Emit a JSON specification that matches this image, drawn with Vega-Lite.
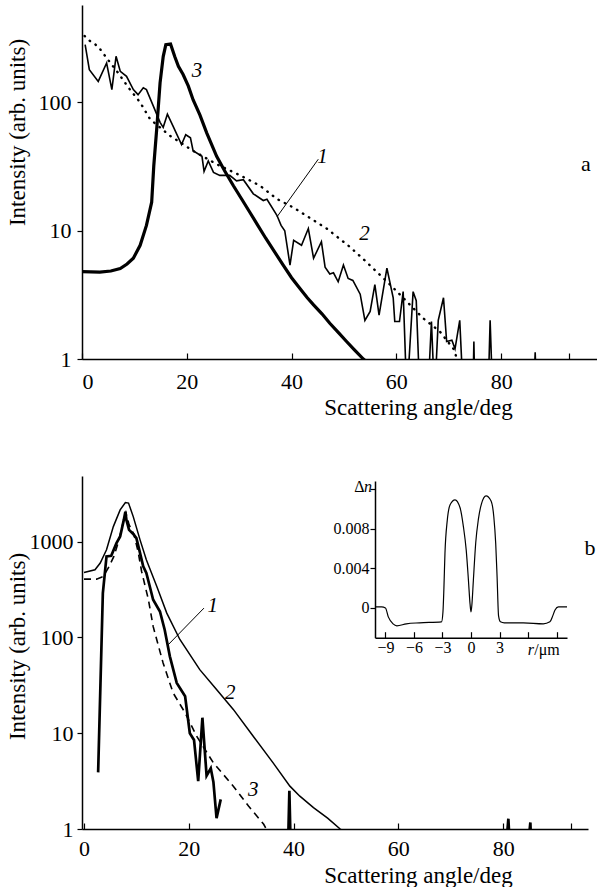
{
  "$schema": "https://vega.github.io/schema/vega-lite/v6.json",
  "background": "white",
  "padding": {"left": 5, "top": 5, "right": 0, "bottom": 0},
  "spacing": 117,
  "bounds": "flush",
  "config": {
    "view": {"stroke": null},
    "axis": {
      "grid": false,
      "domainColor": "black",
      "domainWidth": 1.5,
      "tickColor": "black",
      "tickWidth": 1.2,
      "labelColor": "black",
      "labelFontSize": 22,
      "titleFontSize": 23,
      "titleFontWeight": "normal",
      "titleColor": "black"
    }
  },
  "datasets": {
    "a1": [
      {"angle":0.6,"intensity":282},{"angle":1.4,"intensity":180},{"angle":3.1,"intensity":146},{"angle":4.7,"intensity":203},{"angle":5.7,"intensity":126},{"angle":6.5,"intensity":229},{"angle":7.3,"intensity":175},{"angle":8.5,"intensity":160},{"angle":9.8,"intensity":126},{"angle":10.7,"intensity":115},{"angle":11.7,"intensity":130},{"angle":12.3,"intensity":126},{"angle":13.6,"intensity":94},{"angle":14.9,"intensity":70},{"angle":15.5,"intensity":64},{"angle":16.3,"intensity":81},{"angle":17.4,"intensity":65},{"angle":19.0,"intensity":47},{"angle":19.8,"intensity":56},{"angle":20.7,"intensity":53},{"angle":21.2,"intensity":42},{"angle":22.9,"intensity":38},{"angle":23.3,"intensity":29},{"angle":24.1,"intensity":35},{"angle":25.1,"intensity":28.5},{"angle":26.3,"intensity":27},{"angle":28.2,"intensity":27},{"angle":29.5,"intensity":24.5},{"angle":30.8,"intensity":25},{"angle":32.7,"intensity":19.4},{"angle":34.6,"intensity":17.2},{"angle":35.3,"intensity":17.6},{"angle":37.2,"intensity":13.2},{"angle":38.0,"intensity":11},{"angle":38.7,"intensity":10},{"angle":39.7,"intensity":5.4},{"angle":40.4,"intensity":8.4},{"angle":41.9,"intensity":7.7},{"angle":43.2,"intensity":10.4},{"angle":44.2,"intensity":6.1},{"angle":45.7,"intensity":8.2},{"angle":46.4,"intensity":5.2},{"angle":47.3,"intensity":4.6},{"angle":48.0,"intensity":4.7},{"angle":48.9,"intensity":4.0},{"angle":49.9,"intensity":5.4},{"angle":50.8,"intensity":4.25},{"angle":51.7,"intensity":4.1},{"angle":53.1,"intensity":3.2},{"angle":54.0,"intensity":2.0},{"angle":55.0,"intensity":2.35},{"angle":55.9,"intensity":3.8},{"angle":56.7,"intensity":2.2},{"angle":58.2,"intensity":5.1},{"angle":59.4,"intensity":3.0},{"angle":59.7,"intensity":1.96},{"angle":60.6,"intensity":1.96},{"angle":61.3,"intensity":3.35},{"angle":62.0,"intensity":0.5},{"angle":63.2,"intensity":3.35},{"angle":63.8,"intensity":2.85},{"angle":64.5,"intensity":0.5},{"angle":66.0,"intensity":0.5},{"angle":66.7,"intensity":1.96},{"angle":67.3,"intensity":0.5},{"angle":68.0,"intensity":2.0},{"angle":69.0,"intensity":3.0},{"angle":69.6,"intensity":1.37},{"angle":70.6,"intensity":1.4},{"angle":71.2,"intensity":1.2},{"angle":72.1,"intensity":2.0},{"angle":72.8,"intensity":0.5},{"angle":74.6,"intensity":0.5},{"angle":74.8,"intensity":1.37},{"angle":75.0,"intensity":0.5},{"angle":77.5,"intensity":0.5},{"angle":77.9,"intensity":2.0},{"angle":78.4,"intensity":0.5},{"angle":86.2,"intensity":0.5},{"angle":86.5,"intensity":1.13},{"angle":86.8,"intensity":0.5}
    ],
    "a2": [
      {"angle":0.5,"intensity":330},{"angle":1.0,"intensity":312},{"angle":3.1,"intensity":273},{"angle":4.7,"intensity":222},{"angle":6.9,"intensity":170},{"angle":8.9,"intensity":130},{"angle":11.1,"intensity":100},{"angle":13.0,"intensity":74},{"angle":16.8,"intensity":55},{"angle":21.2,"intensity":42},{"angle":25.7,"intensity":33},{"angle":30.2,"intensity":27},{"angle":34.0,"intensity":22.4},{"angle":37.2,"intensity":17.7},{"angle":40.3,"intensity":15.2},{"angle":43.2,"intensity":12.8},{"angle":46.7,"intensity":10.4},{"angle":51.1,"intensity":7.5},{"angle":54.3,"intensity":5.7},{"angle":58.8,"intensity":3.8},{"angle":61.3,"intensity":3.0},{"angle":65.1,"intensity":2.08},{"angle":68.3,"intensity":1.64},{"angle":70.9,"intensity":1.2},{"angle":71.6,"intensity":1.0}
    ],
    "a3": [
      {"angle":0,"intensity":4.8},{"angle":3.4,"intensity":4.75},{"angle":5.5,"intensity":4.85},{"angle":7.3,"intensity":5.07},{"angle":8.6,"intensity":5.5},{"angle":9.8,"intensity":6.1},{"angle":11.1,"intensity":7.7},{"angle":12.3,"intensity":11},{"angle":13.3,"intensity":16.7},{"angle":13.7,"intensity":32},{"angle":14.3,"intensity":65},{"angle":14.9,"intensity":142},{"angle":15.5,"intensity":228},{"angle":16.0,"intensity":282},{"angle":16.9,"intensity":285},{"angle":17.7,"intensity":228},{"angle":18.4,"intensity":191},{"angle":19.3,"intensity":165},{"angle":20.3,"intensity":134},{"angle":21.2,"intensity":105},{"angle":22.5,"intensity":80},{"angle":23.8,"intensity":58},{"angle":25.7,"intensity":38},{"angle":27.3,"intensity":29},{"angle":28.9,"intensity":22.4},{"angle":30.5,"intensity":17.6},{"angle":32.0,"intensity":14},{"angle":33.5,"intensity":11.1},{"angle":35.1,"intensity":8.7},{"angle":36.7,"intensity":6.9},{"angle":38.4,"intensity":5.4},{"angle":40.0,"intensity":4.3},{"angle":41.6,"intensity":3.55},{"angle":43.0,"intensity":3.0},{"angle":44.2,"intensity":2.64},{"angle":45.8,"intensity":2.25},{"angle":47.3,"intensity":1.9},{"angle":49.0,"intensity":1.6},{"angle":50.5,"intensity":1.37},{"angle":52.0,"intensity":1.18},{"angle":53.7,"intensity":1.0},{"angle":55.0,"intensity":0.9}
    ],
    "aLeader": [{"angle":37.2,"intensity":12.8,"angle2":45.1,"intensity2":36.1}],
    "aLabels": [{"angle":21.96,"intensity":175,"t":"3"},{"angle":45.9,"intensity":37.8,"t":"1"},{"angle":53.9,"intensity":9.5,"t":"2"}],
    "aLetter": [{"angle":96.2,"intensity":33,"t":"a"}],
    "b1": [
      {"seg":1,"angle":2.7,"intensity":3.9},{"seg":1,"angle":3.6,"intensity":290},{"seg":1,"angle":4.3,"intensity":700},{"seg":1,"angle":5.2,"intensity":710},{"seg":1,"angle":6.2,"intensity":962},{"seg":1,"angle":6.9,"intensity":1128},{"seg":1,"angle":7.6,"intensity":1682},{"seg":1,"angle":7.9,"intensity":2050},{"seg":1,"angle":8.1,"intensity":1680},{"seg":1,"angle":8.6,"intensity":1324},{"seg":1,"angle":9.4,"intensity":1200},{"seg":1,"angle":10.0,"intensity":1084},{"seg":1,"angle":10.6,"intensity":800},{"seg":1,"angle":11.3,"intensity":550},{"seg":1,"angle":11.9,"intensity":470},{"seg":1,"angle":12.5,"intensity":350},{"seg":1,"angle":13.2,"intensity":247},{"seg":1,"angle":14.5,"intensity":186},{"seg":1,"angle":15.4,"intensity":120},{"seg":1,"angle":16.4,"intensity":63},{"seg":1,"angle":17.7,"intensity":33.5},{"seg":1,"angle":19.3,"intensity":24.3},{"seg":1,"angle":20.2,"intensity":10},{"seg":1,"angle":21.0,"intensity":8.5},{"seg":1,"angle":21.8,"intensity":3.16},{"seg":1,"angle":22.6,"intensity":14.5},{"seg":1,"angle":23.4,"intensity":3.6},{"seg":1,"angle":24.2,"intensity":4.3},{"seg":1,"angle":24.7,"intensity":3.1},{"seg":1,"angle":25.3,"intensity":1.3},{"seg":1,"angle":26.1,"intensity":2.04},
      {"seg":2,"angle":38.9,"intensity":0.5},{"seg":2,"angle":39.2,"intensity":2.5},{"seg":2,"angle":39.5,"intensity":0.5},
      {"seg":3,"angle":80.7,"intensity":0.8},{"seg":3,"angle":81.0,"intensity":1.28},{"seg":3,"angle":81.2,"intensity":0.8},
      {"seg":4,"angle":84.9,"intensity":0.8},{"seg":4,"angle":85.2,"intensity":1.17},{"seg":4,"angle":85.3,"intensity":0.8}
    ],
    "b2": [
      {"angle":0,"intensity":475},{"angle":2.1,"intensity":507},{"angle":3.1,"intensity":596},{"angle":4.3,"intensity":820},{"angle":5.6,"intensity":1432},{"angle":6.9,"intensity":2140},{"angle":7.9,"intensity":2547},{"angle":8.5,"intensity":2520},{"angle":9.4,"intensity":1820},{"angle":10.7,"intensity":1041},{"angle":11.9,"intensity":646},{"angle":13.9,"intensity":340},{"angle":15.8,"intensity":179},{"angle":18.3,"intensity":95},{"angle":22.1,"intensity":46},{"angle":25.3,"intensity":28.5},{"angle":28.5,"intensity":17.7},{"angle":32.3,"intensity":9.3},{"angle":36.1,"intensity":4.9},{"angle":39.3,"intensity":2.8},{"angle":41.2,"intensity":2.2},{"angle":43.8,"intensity":1.67},{"angle":46.5,"intensity":1.3},{"angle":48.9,"intensity":1.0},{"angle":50,"intensity":0.9}
    ],
    "b3": [
      {"angle":0,"intensity":405},{"angle":2.4,"intensity":405},{"angle":3.7,"intensity":431},{"angle":4.8,"intensity":550},{"angle":5.7,"intensity":700},{"angle":6.6,"intensity":1000},{"angle":7.6,"intensity":1700},{"angle":8.0,"intensity":2000},{"angle":8.6,"intensity":1500},{"angle":9.5,"intensity":1200},{"angle":10.3,"intensity":800},{"angle":11.0,"intensity":487},{"angle":12.3,"intensity":247},{"angle":13.2,"intensity":130},{"angle":15.1,"intensity":54},{"angle":17.0,"intensity":26.4},{"angle":19.3,"intensity":16.3},{"angle":21.5,"intensity":9.3},{"angle":24.7,"intensity":4.9},{"angle":28.5,"intensity":2.8},{"angle":31.4,"intensity":1.74},{"angle":34.3,"intensity":1.12},{"angle":34.8,"intensity":1.0}
    ],
    "bLeader": [{"angle":16.1,"intensity":84,"angle2":22.9,"intensity2":202}],
    "bLabels": [{"angle":24.6,"intensity":210,"t":"1"},{"angle":27.9,"intensity":26.2,"t":"2"},{"angle":32.3,"intensity":2.55,"t":"3"}],
    "bLetter": [{"angle":96.6,"intensity":860,"t":"b"}],
    "inset": [
      {"r":-10.1,"dn":0.0001},{"r":-9.4,"dn":0.0001},{"r":-9.0,"dn":0.0},{"r":-8.7,"dn":-0.0009},{"r":-8.2,"dn":-0.0016},{"r":-7.8,"dn":-0.0018},{"r":-6.8,"dn":-0.0016},{"r":-5.4,"dn":-0.0015},{"r":-3.1,"dn":-0.0014},{"r":-2.95,"dn":-0.0004},{"r":-2.85,"dn":0.002},{"r":-2.74,"dn":0.0055},{"r":-2.5,"dn":0.0088},{"r":-2.2,"dn":0.0104},{"r":-1.68,"dn":0.0109},{"r":-1.15,"dn":0.0101},{"r":-0.8,"dn":0.0082},{"r":-0.5,"dn":0.0058},{"r":-0.27,"dn":0.0028},{"r":-0.1,"dn":0.0004},{"r":0,"dn":-0.0004},{"r":0.1,"dn":0.0004},{"r":0.25,"dn":0.0028},{"r":0.5,"dn":0.0066},{"r":0.77,"dn":0.0089},{"r":1.1,"dn":0.0105},{"r":1.58,"dn":0.0113},{"r":2.1,"dn":0.0108},{"r":2.4,"dn":0.0092},{"r":2.6,"dn":0.0065},{"r":2.75,"dn":0.003},{"r":2.9,"dn":-0.0008},{"r":3.1,"dn":-0.0014},{"r":3.5,"dn":-0.0015},{"r":5.5,"dn":-0.0015},{"r":7.6,"dn":-0.0016},{"r":8.3,"dn":-0.0014},{"r":8.6,"dn":-0.0008},{"r":8.84,"dn":-0.0002},{"r":9.2,"dn":0.0001},{"r":10.1,"dn":0.0001}
    ],
    "insetUpright": [{"r":-11.74,"dn":0.01215,"t":"Δ"},{"r":8.0,"dn":-0.00428,"t":"/μm"}],
    "insetItalic": [{"r":-10.84,"dn":0.01215,"t":"n"},{"r":6.3,"dn":-0.00428,"t":"r"}]
  },
  "vconcat": [
    {
      "width": 515,
      "height": 354,
      "layer": [
        {
          "data": {"name": "a3"},
          "mark": {"type": "line", "color": "black", "strokeWidth": 3.2, "clip": true},
          "encoding": {
            "x": {"field": "angle", "type": "quantitative", "scale": {"domain": [0, 98.3], "nice": false},
              "axis": {"values": [0, 20, 40, 60, 80, 93], "labelExpr": "datum.value > 90 ? '' : datum.label", "tickSize": -6, "labelPadding": 18,
                "labelFont": "Liberation Serif", "titleFont": "Liberation Serif",
                "title": "Scattering angle/deg", "titleX": 336, "titleY": 55, "titleAlign": "center", "titleBaseline": "alphabetic", "titleAnchor": null}},
            "y": {"field": "intensity", "type": "quantitative", "scale": {"type": "log", "domain": [1, 575], "nice": false},
              "axis": {"values": [1, 10, 100], "format": "d", "tickSize": 5, "labelPadding": 6, "labelFont": "Liberation Serif", "titleFont": "Liberation Serif",
                "title": "Intensity (arb. units)",
                "titleX": -65, "titleY": 127, "titleAlign": "center", "titleBaseline": "middle", "titleAngle": -90, "titleAnchor": null}}
          }
        },
        {
          "data": {"name": "a1"},
          "mark": {"type": "line", "color": "black", "strokeWidth": 1.6, "clip": true},
          "encoding": {
            "x": {"field": "angle", "type": "quantitative"},
            "y": {"field": "intensity", "type": "quantitative"}
          }
        },
        {
          "data": {"name": "a2"},
          "mark": {"type": "line", "color": "black", "strokeWidth": 2.4, "strokeDash": [0.5, 6.5], "strokeCap": "round", "clip": true},
          "encoding": {
            "x": {"field": "angle", "type": "quantitative"},
            "y": {"field": "intensity", "type": "quantitative"}
          }
        },
        {
          "data": {"name": "aLeader"},
          "mark": {"type": "rule", "color": "black", "strokeWidth": 1},
          "encoding": {
            "x": {"field": "angle", "type": "quantitative"},
            "y": {"field": "intensity", "type": "quantitative"},
            "x2": {"field": "angle2"},
            "y2": {"field": "intensity2"}
          }
        },
        {
          "data": {"name": "aLabels"},
          "mark": {"type": "text", "font": "Liberation Serif", "fontStyle": "italic", "fontSize": 21, "color": "black", "align": "center", "baseline": "middle"},
          "encoding": {
            "x": {"field": "angle", "type": "quantitative"},
            "y": {"field": "intensity", "type": "quantitative"},
            "text": {"field": "t"}
          }
        },
        {
          "data": {"name": "aLetter"},
          "mark": {"type": "text", "font": "Liberation Serif", "fontSize": 22, "color": "black", "align": "center", "baseline": "middle"},
          "encoding": {
            "x": {"field": "angle", "type": "quantitative"},
            "y": {"field": "intensity", "type": "quantitative"},
            "text": {"field": "t"}
          }
        }
      ]
    },
    {
      "width": 506,
      "height": 353,
      "layer": [
        {
          "layer": [
            {
              "data": {"name": "b2"},
              "mark": {"type": "line", "color": "black", "strokeWidth": 1.5, "clip": true},
              "encoding": {
                "x": {"field": "angle", "type": "quantitative", "scale": {"domain": [-0.38, 96.2], "nice": false, "zero": false},
                  "axis": {"values": [0, 20, 40, 60, 80, 93], "labelExpr": "datum.value > 90 ? '' : datum.label", "tickSize": -6, "labelPadding": 15,
                    "labelFont": "Liberation Serif", "titleFont": "Liberation Serif",
                    "title": "Scattering angle/deg", "titleX": 336, "titleY": 53, "titleAlign": "center", "titleBaseline": "alphabetic", "titleAnchor": null}},
                "y": {"field": "intensity", "type": "quantitative", "scale": {"type": "log", "domain": [1, 4830], "nice": false},
                  "axis": {"values": [1, 10, 100, 1000], "format": "d", "tickSize": 5, "labelPadding": 4, "labelFont": "Liberation Serif", "titleFont": "Liberation Serif",
                    "title": "Intensity (arb. units)",
                    "titleX": -65, "titleY": 170, "titleAlign": "center", "titleBaseline": "middle", "titleAngle": -90, "titleAnchor": null}}
              }
            },
            {
              "data": {"name": "b3"},
              "mark": {"type": "line", "color": "black", "strokeWidth": 1.6, "strokeDash": [7, 5], "clip": true},
              "encoding": {
                "x": {"field": "angle", "type": "quantitative"},
                "y": {"field": "intensity", "type": "quantitative"}
              }
            },
            {
              "data": {"name": "b1"},
              "mark": {"type": "line", "color": "black", "strokeWidth": 2.7, "clip": true},
              "encoding": {
                "x": {"field": "angle", "type": "quantitative"},
                "y": {"field": "intensity", "type": "quantitative"},
                "detail": {"field": "seg", "type": "nominal"}
              }
            },
            {
              "data": {"name": "bLeader"},
              "mark": {"type": "rule", "color": "black", "strokeWidth": 1},
              "encoding": {
                "x": {"field": "angle", "type": "quantitative"},
                "y": {"field": "intensity", "type": "quantitative"},
                "x2": {"field": "angle2"},
                "y2": {"field": "intensity2"}
              }
            },
            {
              "data": {"name": "bLabels"},
              "mark": {"type": "text", "font": "Liberation Serif", "fontStyle": "italic", "fontSize": 21, "color": "black", "align": "center", "baseline": "middle"},
              "encoding": {
                "x": {"field": "angle", "type": "quantitative"},
                "y": {"field": "intensity", "type": "quantitative"},
                "text": {"field": "t"}
              }
            },
            {
              "data": {"name": "bLetter"},
              "mark": {"type": "text", "font": "Liberation Serif", "fontSize": 22, "color": "black", "align": "center", "baseline": "middle"},
              "encoding": {
                "x": {"field": "angle", "type": "quantitative"},
                "y": {"field": "intensity", "type": "quantitative"},
                "text": {"field": "t"}
              }
            }
          ]
        },
        {
          "layer": [
            {
              "data": {"name": "inset"},
              "mark": {"type": "line", "color": "black", "strokeWidth": 1.2, "interpolate": "monotone"},
              "encoding": {
                "x": {"field": "r", "type": "quantitative", "scale": {"domain": [-10.1, 10.1], "range": [293, 485], "nice": false},
                  "axis": {"orient": "bottom", "offset": -191.3, "values": [-9, -6, -3, 0, 3, 6, 9],
                    "labelExpr": "datum.value > 4 ? '' : datum.label", "tickSize": -6, "labelPadding": 8, "labelFontSize": 16,
                    "labelFont": "Liberation Serif", "domainWidth": 1.5, "title": null}},
                "y": {"field": "dn", "type": "quantitative", "scale": {"domain": [-0.003, 0.0128], "range": [161.7, 5], "nice": false, "zero": false},
                  "axis": {"orient": "left", "offset": -293, "values": [0, 0.004, 0.008, 0.012],
                    "labelExpr": "datum.value > 0.01 ? '' : (datum.value == 0 ? '0' : format(datum.value, '.3f'))",
                    "tickSize": 5, "labelPadding": 1, "labelFontSize": 16, "labelFont": "Liberation Serif", "domainWidth": 1.5, "title": null}}
              }
            },
            {
              "data": {"name": "insetUpright"},
              "mark": {"type": "text", "font": "Liberation Serif", "fontSize": 16, "color": "black", "align": "center", "baseline": "middle"},
              "encoding": {
                "x": {"field": "r", "type": "quantitative"},
                "y": {"field": "dn", "type": "quantitative"},
                "text": {"field": "t"}
              }
            },
            {
              "data": {"name": "insetItalic"},
              "mark": {"type": "text", "font": "Liberation Serif", "fontStyle": "italic", "fontSize": 16, "color": "black", "align": "center", "baseline": "middle"},
              "encoding": {
                "x": {"field": "r", "type": "quantitative"},
                "y": {"field": "dn", "type": "quantitative"},
                "text": {"field": "t"}
              }
            }
          ]
        }
      ],
      "resolve": {"scale": {"x": "independent", "y": "independent"}, "axis": {"x": "independent", "y": "independent"}}
    }
  ]
}
